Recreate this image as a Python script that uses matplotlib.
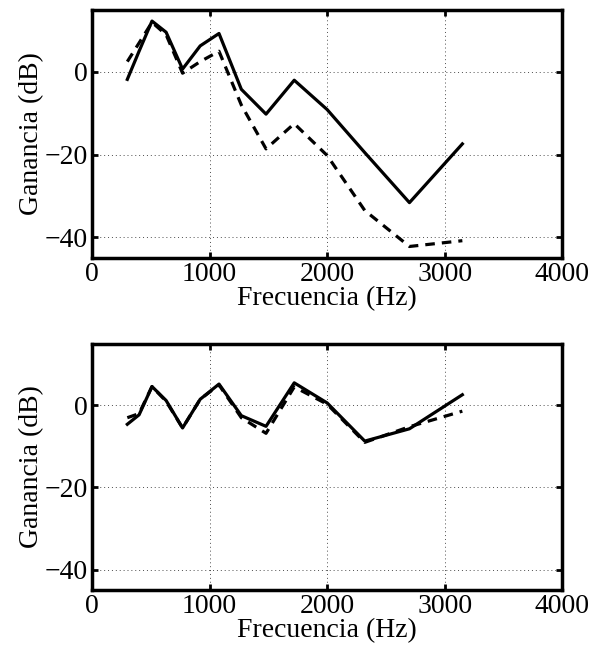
import numpy as np
import matplotlib
matplotlib.use("Agg")
import matplotlib.pyplot as plt

plt.rcParams["font.family"] = ["Liberation Serif", "DejaVu Serif"]
plt.rcParams["font.size"] = 20

# frecuencias centrales de banda (Hz)
freq = [300, 400, 510, 630, 770, 920, 1080, 1270, 1480, 1720, 2000, 2320, 2700, 3150]

# panel superior
top_solid = [-1.8, 5.0, 12.3, 9.6, 0.7, 6.3, 9.3, -4.2, -10.2, -2.0, -9.1, -19.5, -31.6, -17.4]
top_dash = [2.5, 7.0, 12.0, 9.0, -0.3, 2.5, 5.0, -8.0, -18.6, -12.5, -20.2, -33.5, -42.2, -40.8]

# panel inferior
bot_solid = [-4.6, -2.3, 4.6, 1.2, -5.5, 1.5, 5.2, -2.5, -5.1, 5.5, 0.6, -8.7, -5.7, 2.6]
bot_dash = [-3.0, -2.0, 4.6, 1.0, -5.5, 1.5, 5.0, -3.0, -6.8, 4.5, 0.3, -9.0, -5.2, -1.4]

fig = plt.figure(figsize=(5.9, 6.6), dpi=100)
ax1 = fig.add_axes([0.156, 0.609, 0.797, 0.376])
ax2 = fig.add_axes([0.156, 0.106, 0.797, 0.373])

for ax, s, d in [(ax1, top_solid, top_dash), (ax2, bot_solid, bot_dash)]:
    ax.plot(freq, d, color="black", lw=2.3, ls=(0, (3.0, 2.2)))
    ax.plot(freq, s, color="black", lw=2.3)
    ax.set_xlim(0, 4000)
    ax.set_ylim(-45, 15)
    ax.set_xticks([0, 1000, 2000, 3000, 4000])
    ax.set_yticks([-40, -20, 0])
    ax.grid(True, color="black", ls=(0, (1, 3)), lw=0.7, alpha=0.7)
    ax.tick_params(direction="in", top=True, right=True, length=4, width=2, pad=3)
    for sp in ax.spines.values():
        sp.set_linewidth(2.5)
    ax.set_xlabel("Frecuencia (Hz)", labelpad=-1)
    ax.set_ylabel("Ganancia (dB)", labelpad=0)

fig.savefig("out.png", dpi=100)
